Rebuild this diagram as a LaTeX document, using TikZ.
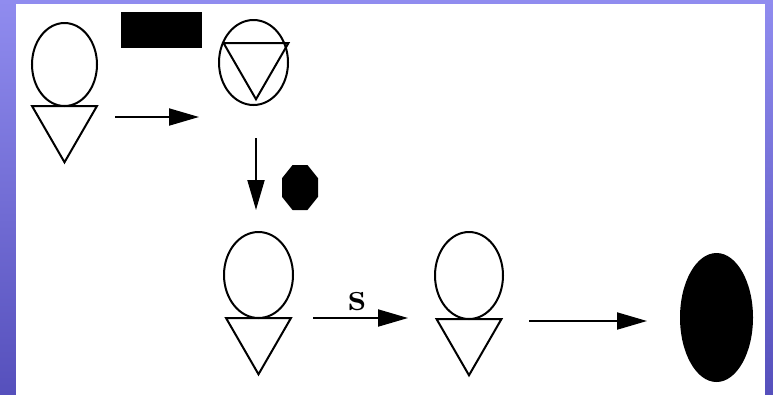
\documentclass[tikz,border=0pt]{standalone}
\usepackage{xcolor}
\usetikzlibrary{arrows.meta, positioning, shapes.geometric}

\definecolor{bgtop}{HTML}{908CEF}
\definecolor{bgbot}{HTML}{5650BC}

\begin{document}
\begin{tikzpicture}[
  x=1pt, y=-1pt,
  line width=2pt,
  every node/.style={inner sep=0pt, outer sep=0pt},
  head/.style={draw, ellipse, minimum width=66pt, minimum height=85pt},
  cone/.style={draw, regular polygon, regular polygon sides=3,
               shape border rotate=180, minimum size=75pt},
  blot/.style={fill=black},
  arr/.style={-{Triangle[length=30pt, width=17pt]}, line width=2pt},
  lbl/.style={font=\fontsize{40}{46}\selectfont\bfseries},
]
  % Frame
  \shade[top color=bgtop, bottom color=bgbot] (0,0) rectangle (773,394);
  \fill[white] (16,4) rectangle (765,400);
  \useasboundingbox (0,0) rectangle (773,394);

  % Figures
  \node[head, minimum width=65pt, minimum height=83pt] (h1) at (64.5,64.5) {};
  \node[cone, below=0pt of h1] (t1) {};
  \node[blot, minimum width=81pt, minimum height=36pt] (bar) at (161.5,30) {};

  \node[head, minimum width=69pt] (h2) at (253.5,62.5) {};
  \node[cone, anchor=north] (t2) at (256,43) {};
  \node[blot, regular polygon, regular polygon sides=8,
        minimum size=48.7pt, xscale=0.8] (oct) at (300,187.5) {};

  \node[head, minimum width=69pt, minimum height=86pt] (h3) at (258.5,275) {};
  \node[cone, below=0pt of h3] (t3) {};
  \node[head, minimum width=68pt, minimum height=87pt] (h4) at (469,275.5) {};
  \node[cone, below=0pt of h4] (t4) {};
  \node[blot, ellipse, minimum width=73pt, minimum height=129pt] (egg) at (716.5,317.5) {};

  % Arrow ends
  \coordinate (p1) at (115,117);  \coordinate (q1) at (199,117);
  \coordinate (p2) at (256,138);  \coordinate (q2) at (256,210);
  \coordinate (p3) at (313,318);  \coordinate (q3) at (408,318);
  \coordinate (p4) at (529,321);  \coordinate (q4) at (647,321);

  % Arrows
  \draw[arr] (p1) -- (q1);
  \draw[arr] (p2) -- (q2);
  \draw[arr] (p3) -- node[lbl, pos=0.47, above=7pt] (s) {s} (q3);
  \draw[arr] (p4) -- (q4);
\end{tikzpicture}
\end{document}
